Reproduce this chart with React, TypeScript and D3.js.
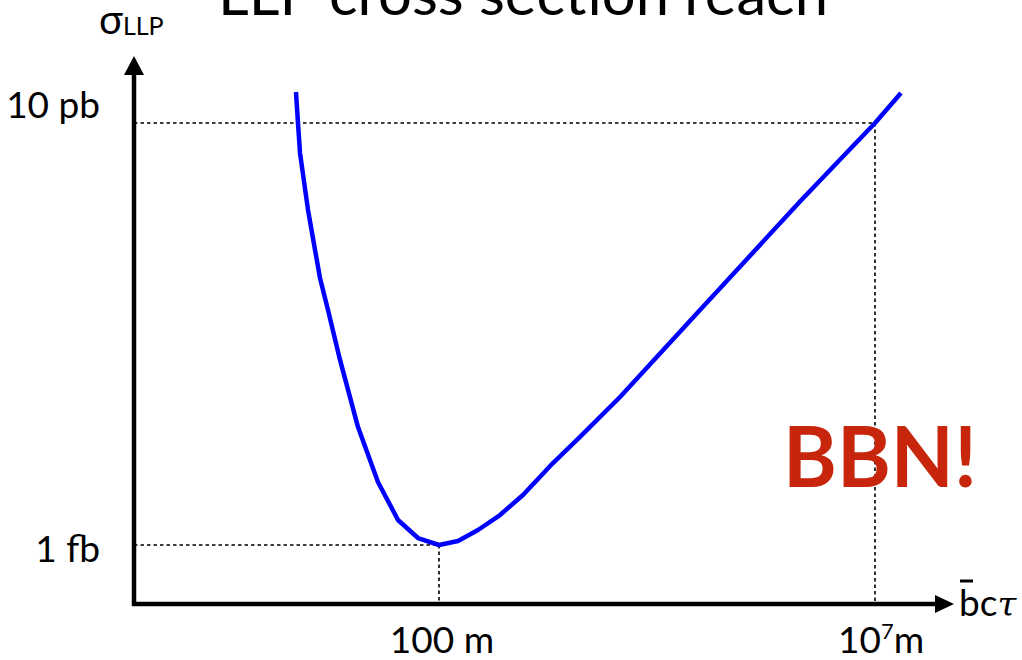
import React from "react";
import * as d3 from "d3";

// Decay length b̄cτ in metres, and the reachable LLP cross section in fb
const lifetimeM = [2.29, 2.415, 2.547, 3.148, 4.315, 5.333, 7.328, 11.78, 19.95, 33.88, 57.41, 100, 165.2, 279.9, 501, 918, 2028, 4140, 11910, 98400, 1.38e6, 1.0e7, 1.986e7];
const sigmaFb = [19680, 10000, 5200, 1496, 339.6, 168.7, 56.75, 13.12, 3.954, 1.726, 1.164, 1.0, 1.091, 1.387, 1.923, 2.979, 5.984, 10.6, 25.29, 168.7, 1799, 10000, 19230];

const xTicks = [100, 1e7];
const xTickLabels = ["100 m", "10^7m"];
const yTicks = [1, 1e4];
const yTickLabels = ["1 fb", "10 pb"];

const title = "LLP cross section reach";
const note = "BBN!";

const W = 1022;
const H = 660;
const FONT = "Lato, 'Open Sans', 'DejaVu Sans', sans-serif";

export default function App() {
  const x = d3.scaleLog().domain([100, 1e7]).range([439, 875]);
  const y = d3.scaleLog().domain([1, 1e4]).range([545, 123]);
  const axisX = 134; // y-axis position
  const axisY = 604; // x-axis position

  const pts: [number, number][] = lifetimeM.map((v, i) => [v, sigmaFb[i]]);
  const line = d3
    .line<[number, number]>()
    .x((d) => x(d[0]))
    .y((d) => y(d[1]))
    .curve(d3.curveLinear);

  return (
    <svg
      width={W}
      height={H}
      style={{ position: "absolute", left: 0, top: 0, background: "#fff" }}
      fontFamily={FONT}
    >
      <rect x={0} y={0} width={W} height={H} fill="#fff" />
      {/* title (cropped at top) */}
      <text x={218} y={15} fontSize={58} fill="#000" textLength={610} lengthAdjust="spacingAndGlyphs">
        {title}
      </text>

      {/* dotted guides */}
      {yTicks.map((t, i) => (
        <line
          key={"hy" + i}
          x1={axisX}
          x2={x(xTicks[i])}
          y1={y(t)}
          y2={y(t)}
          stroke="#000"
          strokeWidth={1.6}
          strokeDasharray="3.5,3"
        />
      ))}
      {xTicks.map((t, i) => (
        <line
          key={"vx" + i}
          x1={x(t)}
          x2={x(t)}
          y1={y(yTicks[i])}
          y2={axisY}
          stroke="#000"
          strokeWidth={1.6}
          strokeDasharray="3.5,3"
        />
      ))}

      {/* axes */}
      <line x1={axisX} x2={axisX} y1={axisY + 2} y2={72} stroke="#000" strokeWidth={4.5} />
      <path d={`M${axisX - 10},${75} L${axisX},${56} L${axisX + 10},${75} Z`} fill="#000" />
      <line x1={axisX - 2} x2={937} y1={axisY} y2={axisY} stroke="#000" strokeWidth={4.5} />
      <path d={`M935,${axisY - 9} L954,${axisY} L935,${axisY + 9} Z`} fill="#000" />

      {/* curve */}
      <path d={line(pts) || ""} fill="none" stroke="#0000ff" strokeWidth={4.5} strokeLinejoin="round" />

      {/* y tick labels */}
      <text x={100} y={562} fontSize={37} textAnchor="end" fill="#000">
        {yTickLabels[0]}
      </text>
      <text x={100} y={118} fontSize={37} textAnchor="end" fill="#000">
        {yTickLabels[1]}
      </text>

      {/* x tick labels */}
      <text x={x(xTicks[0]) + 3} y={653} fontSize={37} textAnchor="middle" fill="#000">
        {xTickLabels[0]}
      </text>
      <text x={838} y={653} fontSize={37} fill="#000">
        10
        <tspan fontSize={22} dy={-14}>7</tspan>
        <tspan dy={14}>m</tspan>
      </text>

      {/* axis titles */}
      <text x={99} y={34} fontSize={40} fill="#000">
        σ<tspan fontSize={25} dy={1}>LLP</tspan>
      </text>
      <text x={959} y={616} fontSize={37} fill="#000">
        bc<tspan fontFamily="'DejaVu Serif', 'Liberation Serif', serif" fontStyle="italic" fontSize={34}>τ</tspan>
      </text>
      <line x1={960} x2={973} y1={581} y2={581} stroke="#000" strokeWidth={3} />

      {/* BBN note */}
      <text x={783} y={487} fontSize={84} fontWeight="bold" fill="#c8260c" textLength={194} lengthAdjust="spacingAndGlyphs">
        {note}
      </text>
    </svg>
  );
}
